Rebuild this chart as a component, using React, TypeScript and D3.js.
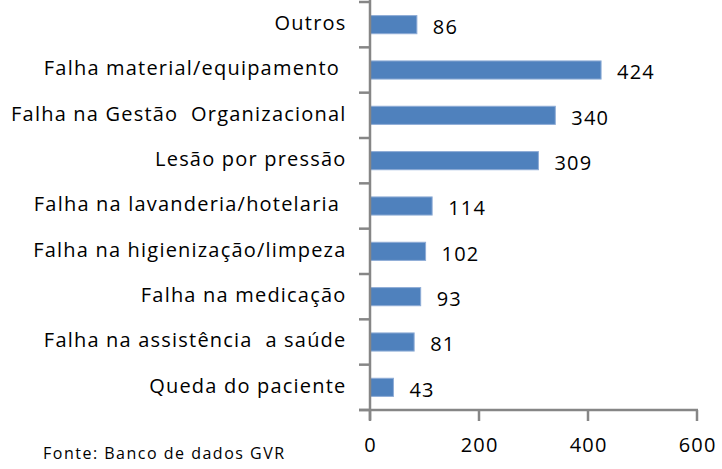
import React from "react";
import * as d3 from "d3";

const categories = [
  "Outros",
  "Falha material/equipamento ",
  "Falha na Gestão  Organizacional",
  "Lesão por pressão",
  "Falha na lavanderia/hotelaria ",
  "Falha na higienização/limpeza",
  "Falha na medicação",
  "Falha na assistência  a saúde",
  "Queda do paciente",
];
const values = [86, 424, 340, 309, 114, 102, 93, 81, 43];
const xTicks = [0, 200, 400, 600];
const sourceNote = "Fonte: Banco de dados GVR";

const W = 722;
const H = 469;
const FONT = "'Open Sans', sans-serif";

export default function App() {
  const x = d3.scaleLinear().domain([0, 600]).range([370, 697]);
  const y = d3.scaleBand<string>().domain(categories).range([2, 410]).paddingInner(0.6).paddingOuter(0.3);
  const band = d3.scaleBand<string>().domain(categories).range([2, 410]);
  const axisColor = "#868686";
  const ls = 1.2;
  return (
    <svg
      width={W}
      height={H}
      style={{ position: "absolute", left: 0, top: 0, background: "#fff" }}
      fontFamily={FONT}
    >
      {categories.map((c, i) => (
        <g key={c}>
          <rect
            x={x(0)}
            y={y(c)!}
            width={x(values[i]) - x(0)}
            height={y.bandwidth()}
            fill="#4F81BD"
            stroke="#8EACD6"
            strokeWidth={1}
          />
          <text
            x={x(values[i]) + 16}
            y={y(c)! + y.bandwidth() / 2 + 4}
            dominantBaseline="middle"
            fontSize={20}
            letterSpacing={ls}
            fill="#000"
          >
            {values[i]}
          </text>
          <text
            x={346.5}
            y={band(c)! + band.bandwidth() / 2}
            dominantBaseline="middle"
            textAnchor="end"
            fontSize={20}
            letterSpacing={ls}
            fill="#000"
            style={{ whiteSpace: "pre" }}
          >
            {c}
          </text>
        </g>
      ))}
      {/* y axis */}
      <line x1={x(0)} x2={x(0)} y1={0} y2={420} stroke={axisColor} strokeWidth={2.5} />
      {[...categories.map((c) => band(c)!), 410].map((yy, i) => (
        <line key={"yt" + i} x1={359} x2={x(0)} y1={yy} y2={yy} stroke={axisColor} strokeWidth={2.5} />
      ))}
      {/* x axis */}
      <line x1={359} x2={x(600) + 1} y1={410} y2={410} stroke={axisColor} strokeWidth={2.5} />
      {xTicks.map((t) => (
        <g key={"xt" + t}>
          <line x1={x(t)} x2={x(t)} y1={410} y2={421} stroke={axisColor} strokeWidth={2.5} />
          <text
            x={x(t) + ls / 2}
            y={447}
            textAnchor="middle"
            dominantBaseline="middle"
            fontSize={20}
            letterSpacing={ls}
            fill="#000"
          >
            {t}
          </text>
        </g>
      ))}
      <text x={43} y={455} dominantBaseline="middle" fontSize={16} letterSpacing={1.5} fill="#000">
        {sourceNote}
      </text>
    </svg>
  );
}
